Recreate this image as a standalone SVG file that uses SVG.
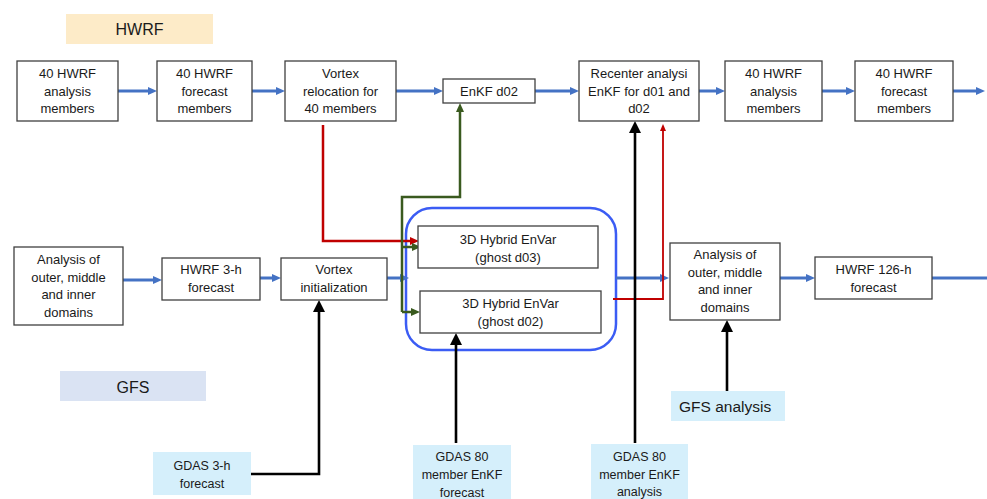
<svg xmlns="http://www.w3.org/2000/svg" width="987" height="499" viewBox="0 0 987 499">
<style>
text{font-family:"Liberation Sans",Arial,sans-serif;fill:#1a1a1a;text-anchor:middle}
.b{font-size:13px}
.s{font-size:12.5px}
.t{font-size:16px}
.box{fill:#fff;stroke:#404040;stroke-width:1.3}
.lb{fill:#d5effb}
.c{fill:none}
.bl{stroke:#4472c4;stroke-width:3}
.rd{stroke:#c00000;stroke-width:2.5}
.rd2{stroke:#c00000;stroke-width:1.8}
.gr{stroke:#3a5a1f;stroke-width:2.5}
.bk{stroke:#000;stroke-width:2.6}
</style>
<defs>
<marker id="ab" markerUnits="userSpaceOnUse" markerWidth="9" markerHeight="8" viewBox="0 0 9 8" refX="0" refY="4" orient="auto"><path d="M0,0L9,4L0,8z" fill="#4472c4"/></marker>
<marker id="ar" markerUnits="userSpaceOnUse" markerWidth="9" markerHeight="8" viewBox="0 0 9 8" refX="0" refY="4" orient="auto"><path d="M0,0L9,4L0,8z" fill="#c00000"/></marker>
<marker id="ar2" markerUnits="userSpaceOnUse" markerWidth="7" markerHeight="6" viewBox="0 0 7 6" refX="0" refY="3" orient="auto"><path d="M0,0L7,3L0,6z" fill="#c00000"/></marker>
<marker id="ag" markerUnits="userSpaceOnUse" markerWidth="9" markerHeight="8" viewBox="0 0 9 8" refX="0" refY="4" orient="auto"><path d="M0,0L9,4L0,8z" fill="#3a5a1f"/></marker>
<marker id="ak" markerUnits="userSpaceOnUse" markerWidth="12" markerHeight="12" viewBox="0 0 12 12" refX="0" refY="6" orient="auto"><path d="M0,0L12,6L0,12z" fill="#000"/></marker>
</defs>

<g id="label-hwrf"><rect x="66" y="14" width="147" height="30" fill="#fdebc8"/><text class="t" x="139.5" y="35">HWRF</text></g>
<g id="label-gfs"><rect x="60" y="371" width="146" height="30" fill="#dae3f3"/><text class="t" x="133" y="393">GFS</text></g>

<g id="ghost-container"><rect x="406" y="208" width="210" height="142" rx="26" ry="26" fill="none" stroke="#3b5cf4" stroke-width="2.5"/></g>

<g id="connectors">
<path class="c bl" d="M118,91H148" marker-end="url(#ab)"/>
<path class="c bl" d="M252,91H276" marker-end="url(#ab)"/>
<path class="c bl" d="M396,91H434" marker-end="url(#ab)"/>
<path class="c bl" d="M535,91H570" marker-end="url(#ab)"/>
<path class="c bl" d="M699,91H716" marker-end="url(#ab)"/>
<path class="c bl" d="M822,91H846" marker-end="url(#ab)"/>
<path class="c bl" d="M953,91H976" marker-end="url(#ab)"/>
<path class="c bl" d="M123,280H153" marker-end="url(#ab)"/>
<path class="c bl" d="M260,278H272" marker-end="url(#ab)"/>
<path class="c bl" d="M387,278H400" marker-end="url(#ab)"/>
<path class="c bl" d="M616,278H660" marker-end="url(#ab)"/>
<path class="c bl" d="M780,278H806" marker-end="url(#ab)"/>
<path class="c bl" d="M932,278H987"/>
<path class="c rd" d="M323,125V241H410" marker-end="url(#ar)"/>
<path class="c rd2" d="M613,299H663V131" marker-end="url(#ar2)"/>
<path class="c gr" d="M402,312V197H460V112" marker-end="url(#ag)"/>
<path class="c gr" d="M402,247H412" marker-end="url(#ag)"/>
<path class="c gr" d="M402,312H411" marker-end="url(#ag)"/>
<path class="c bk" d="M251,474H319V312" marker-end="url(#ak)"/>
<path class="c bk" d="M456,443V345" marker-end="url(#ak)"/>
<path class="c bk" d="M635,443V133" marker-end="url(#ak)"/>
<path class="c bk" d="M727,391V332" marker-end="url(#ak)"/>
</g>

<g id="hwrf-analysis-1"><rect class="box" x="17" y="61" width="101" height="60"/><text class="b" x="67.5" y="78">40 HWRF</text><text class="b" x="67.5" y="95.5">analysis</text><text class="b" x="67.5" y="113">members</text></g>
<g id="hwrf-forecast-1"><rect class="box" x="157" y="61" width="95" height="60"/><text class="b" x="204.5" y="78">40 HWRF</text><text class="b" x="204.5" y="95.5">forecast</text><text class="b" x="204.5" y="113">members</text></g>
<g id="vortex-relocation"><rect class="box" x="285" y="61" width="111" height="60"/><text class="b" x="340.5" y="78">Vortex</text><text class="b" x="340.5" y="95.5">relocation for</text><text class="b" x="340.5" y="113">40 members</text></g>
<g id="enkf-d02"><rect class="box" x="443" y="79" width="92" height="24"/><text class="b" x="489" y="96">EnKF d02</text></g>
<g id="recenter"><rect class="box" x="579" y="61" width="120" height="60"/><text class="b" x="639" y="78">Recenter analysi</text><text class="b" x="639" y="95.5">EnKF for d01 and</text><text class="b" x="639" y="113">d02</text></g>
<g id="hwrf-analysis-2"><rect class="box" x="725" y="61" width="97" height="60"/><text class="b" x="773.5" y="78">40 HWRF</text><text class="b" x="773.5" y="95.5">analysis</text><text class="b" x="773.5" y="113">members</text></g>
<g id="hwrf-forecast-2"><rect class="box" x="855" y="61" width="98" height="60"/><text class="b" x="904" y="78">40 HWRF</text><text class="b" x="904" y="95.5">forecast</text><text class="b" x="904" y="113">members</text></g>

<g id="analysis-left"><rect class="box" x="14" y="247" width="109" height="78"/><text class="b" x="68.5" y="264">Analysis of</text><text class="b" x="68.5" y="281.5">outer, middle</text><text class="b" x="68.5" y="299">and inner</text><text class="b" x="68.5" y="316.5">domains</text></g>
<g id="hwrf-3h"><rect class="box" x="162" y="258" width="98" height="42"/><text class="b" x="211" y="274">HWRF 3-h</text><text class="b" x="211" y="291.5">forecast</text></g>
<g id="vortex-init"><rect class="box" x="281" y="258" width="106" height="42"/><text class="b" x="334" y="274">Vortex</text><text class="b" x="334" y="291.5">initialization</text></g>
<g id="ghost-d03"><rect class="box" x="418" y="226" width="180" height="42"/><text class="b" x="508" y="244">3D Hybrid EnVar</text><text class="b" x="508" y="262">(ghost d03)</text></g>
<g id="ghost-d02"><rect class="box" x="420" y="291" width="181" height="42"/><text class="b" x="510.5" y="308">3D Hybrid EnVar</text><text class="b" x="510.5" y="326">(ghost d02)</text></g>
<g id="analysis-right"><rect class="box" x="670" y="243" width="110" height="77"/><text class="b" x="725" y="259">Analysis of</text><text class="b" x="725" y="276.5">outer, middle</text><text class="b" x="725" y="294">and inner</text><text class="b" x="725" y="311.5">domains</text></g>
<g id="hwrf-126h"><rect class="box" x="815" y="257" width="117" height="42"/><text class="b" x="873.5" y="274">HWRF 126-h</text><text class="b" x="873.5" y="291.5">forecast</text></g>

<g id="gdas-3h"><rect class="lb" x="153" y="452" width="98" height="43"/><text class="s" x="202" y="470">GDAS 3-h</text><text class="s" x="202" y="487.5">forecast</text></g>
<g id="gdas-enkf-forecast"><rect class="lb" x="413" y="445" width="98" height="54"/><text class="s" x="462" y="461">GDAS 80</text><text class="s" x="462" y="479">member EnKF</text><text class="s" x="462" y="496.5">forecast</text></g>
<g id="gdas-enkf-analysis"><rect class="lb" x="591" y="444" width="97" height="55"/><text class="s" x="639.5" y="461">GDAS 80</text><text class="s" x="639.5" y="478.5">member EnKF</text><text class="s" x="639.5" y="496">analysis</text></g>
<g id="gfs-analysis"><rect class="lb" x="671" y="391" width="114" height="30"/><text x="679" y="411.5" style="font-size:15.5px;text-anchor:start">GFS analysis</text></g>
</svg>
